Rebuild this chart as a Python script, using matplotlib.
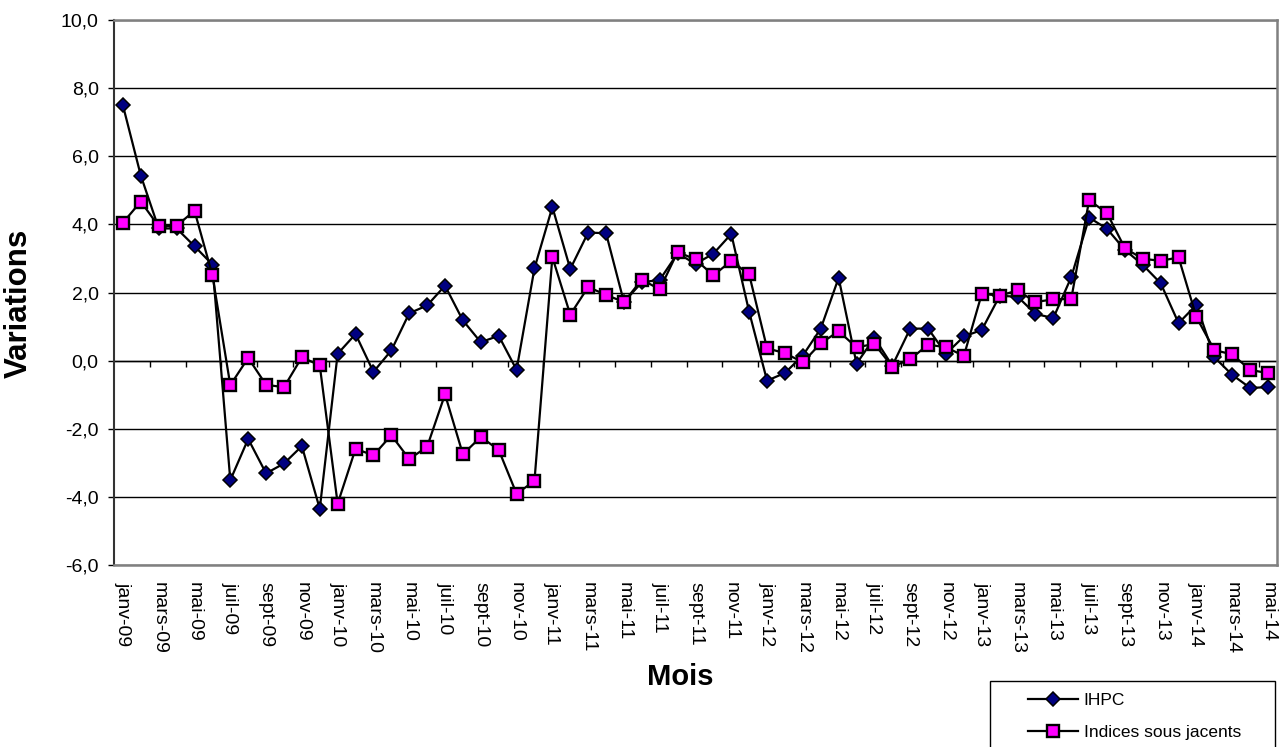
import matplotlib
matplotlib.use("Agg")
import matplotlib.pyplot as plt
from matplotlib.patches import Rectangle
from matplotlib.ticker import FuncFormatter

plt.rcParams['font.family'] = ['Liberation Sans', 'DejaVu Sans']

# mois janv-09 -> mai-14
mois_noms = ['janv', 'févr', 'mars', 'avr', 'mai', 'juin', 'juil', 'août', 'sept', 'oct', 'nov', 'déc']
mois = [f"{m}-{a:02d}" for a in range(9, 15) for m in mois_noms][:65]

ihpc = [7.49, 5.43, 3.88, 3.88, 3.36, 2.82, -3.51, -2.30, -3.31, -3.02, -2.51, -4.35,
        0.20, 0.78, -0.33, 0.30, 1.39, 1.62, 2.20, 1.18, 0.54, 0.73, -0.27, 2.71,
        4.51, 2.69, 3.76, 3.74, 1.72, 2.30, 2.37, 3.15, 2.84, 3.14, 3.72, 1.43,
        -0.59, -0.36, 0.15, 0.94, 2.43, -0.09, 0.67, -0.15, 0.94, 0.94, 0.20, 0.71,
        0.90, 1.90, 1.88, 1.37, 1.25, 2.45, 4.20, 3.87, 3.25, 2.81, 2.27, 1.10,
        1.64, 0.10, -0.42, -0.80, -0.78]

sous_jacents = [4.05, 4.67, 3.94, 3.96, 4.40, 2.51, -0.72, 0.08, -0.71, -0.78, 0.10, -0.14,
                -4.20, -2.59, -2.78, -2.19, -2.89, -2.53, -0.99, -2.75, -2.24, -2.62, -3.91, -3.53,
                3.04, 1.35, 2.16, 1.93, 1.72, 2.38, 2.09, 3.19, 2.97, 2.50, 2.93, 2.53,
                0.36, 0.22, -0.05, 0.51, 0.86, 0.39, 0.49, -0.18, 0.04, 0.47, 0.39, 0.14,
                1.96, 1.91, 2.06, 1.72, 1.80, 1.81, 4.71, 4.33, 3.30, 2.99, 2.93, 3.03,
                1.27, 0.31, 0.18, -0.27, -0.37]

W, H = 1281, 747
fig = plt.figure(figsize=(W / 100, H / 100), dpi=100)
ax = fig.add_axes([114 / W, 1 - 565 / H, (1277 - 114) / W, (565 - 20) / H])

x = list(range(len(mois)))
l1, = ax.plot(x, ihpc, color='black', lw=1.6, marker='D', markersize=7.2,
              markerfacecolor='#000080', markeredgecolor='black', markeredgewidth=1.1, zorder=3)
l2, = ax.plot(x, sous_jacents, color='black', lw=1.6, marker='s', markersize=9,
              markerfacecolor='#FF00FF', markeredgecolor='black', markeredgewidth=1.7, zorder=4)

ax.set_xlim(-0.5, len(mois) - 0.5)
ax.set_ylim(-6, 10)
ax.set_yticks(range(-6, 11, 2))
ax.yaxis.set_major_formatter(FuncFormatter(lambda v, p: f"{v:.1f}".replace('.', ',')))
ax.tick_params(axis='y', labelsize=14, length=4, width=1, direction='out', pad=7)
ax.grid(axis='y', color='black', lw=1.0)
ax.set_axisbelow(True)

ax.set_xticks(x[::2])
ax.set_xticklabels(mois[::2], rotation=-90, fontsize=14)
ax.tick_params(axis='x', length=0, pad=12)

for s in ['top', 'right', 'bottom']:
    ax.spines[s].set_color('#808080')
    ax.spines[s].set_linewidth(1.8)
ax.spines['left'].set_color('#333333')
ax.spines['left'].set_linewidth(1.5)

# axe des catégories qui croise à 0
sec = ax.secondary_xaxis(6 / 16)
sec.set_xticks([i + 0.5 for i in range(1, len(mois) - 1, 2)])
sec.set_xticklabels([])
sec.tick_params(axis='x', length=4.5, width=1, direction='out', color='black')
sec.spines['bottom'].set_color('black')
sec.spines['bottom'].set_linewidth(1.0)

fig.text(19 / W, 1 - 303 / H, 'Variations', rotation=90, fontsize=22.5, fontweight='bold',
         ha='center', va='center')
fig.text(680 / W, 1 - 677 / H, 'Mois', fontsize=21, fontweight='bold', ha='center', va='center')

# légende
fig.patches.append(Rectangle((990 / W, 1 - 770 / H), 285 / W, 89 / H, transform=fig.transFigure,
                             facecolor='white', edgecolor='black', lw=1.0, zorder=0))
fig.legend([l1, l2], ['IHPC', 'Indices sous jacents'], loc='upper left',
           bbox_to_anchor=(1028 / W, 1 - 693 / H), frameon=False, fontsize=12.5,
           borderpad=0, borderaxespad=0, handlelength=2.9, handletextpad=0.3, labelspacing=0.95)

fig.savefig('out.png', dpi=100)
